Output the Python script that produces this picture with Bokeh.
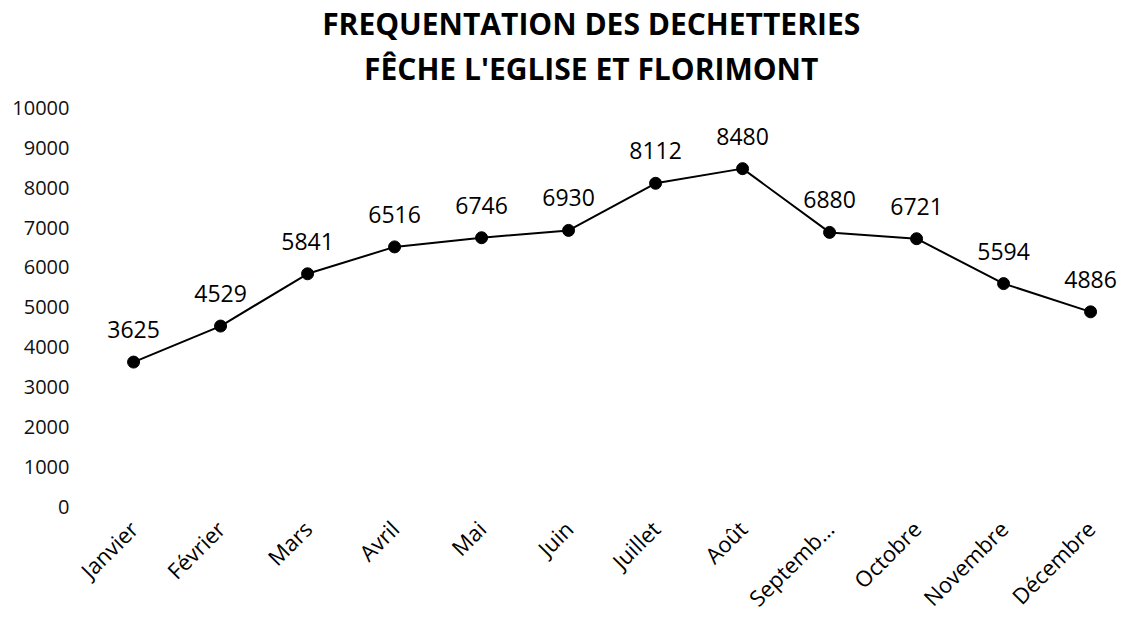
import math
from bokeh.plotting import figure
from bokeh.models import Range1d, FixedTicker, Label, ColumnDataSource, LabelSet
from bokeh.core.properties import value
from bokeh.embed import file_html
from bokeh.resources import INLINE

months = ["Janvier", "Février", "Mars", "Avril", "Mai", "Juin", "Juillet",
          "Août", "Septemb…", "Octobre", "Novembre", "Décembre"]
visits = [3625, 4529, 5841, 6516, 6746, 6930, 8112, 8480, 6880, 6721, 5594, 4886]
y_ticks = [0, 1000, 2000, 3000, 4000, 5000, 6000, 7000, 8000, 9000, 10000]
title_line1 = "FREQUENTATION DES DECHETTERIES"
title_line2 = "FÊCHE L'EGLISE ET FLORIMONT"

FONT = "Open Sans"
# layout: the frame reaches the top of the canvas so the two centred title
# lines can be drawn inside it, above the 0-10000 value area
Y_TOP = 12700
TITLE_X = 5.26
TITLE_Y1 = 12120
TITLE_Y2 = 10990

xs = list(range(len(months)))
src = ColumnDataSource(dict(x=xs, y=visits, lab=[str(v) for v in visits]))

p = figure(width=1124, height=626, output_backend="svg", toolbar_location=None,
           x_range=Range1d(-0.61, 11.39), y_range=Range1d(0, Y_TOP),
           min_border_left=80, min_border_right=0, min_border_top=0,
           min_border_bottom=120, title=None)
p.outline_line_color = None
p.xgrid.grid_line_color = None
p.ygrid.grid_line_color = None

for txt, ty in ((title_line1, TITLE_Y1), (title_line2, TITLE_Y2)):
    p.add_layout(Label(x=TITLE_X, y=ty, text=txt, text_align="center",
                       text_baseline="middle", text_font=FONT,
                       text_font_size="30px", text_font_style="bold",
                       text_color="#000000"))

p.line("x", "y", source=src, line_color="#000000", line_width=2)
p.scatter("x", "y", source=src, size=12, fill_color="#000000", line_color="#000000")

labels = LabelSet(x="x", y="y", text="lab", source=src, text_align="center",
                  text_baseline="alphabetic", y_offset=24, text_font=value(FONT),
                  text_font_size=value("23px"), text_color=value("#000000"))
p.add_layout(labels)

xa = p.xaxis[0]
xa.ticker = FixedTicker(ticks=xs)
xa.major_label_overrides = {i: m for i, m in enumerate(months)}
xa.major_label_orientation = math.pi / 4
xa.axis_line_color = None
xa.major_tick_line_color = None
xa.minor_tick_line_color = None
xa.major_label_text_font = FONT
xa.major_label_text_font_size = "22px"
xa.major_label_text_color = "#000000"
xa.major_label_standoff = 12

ya = p.yaxis[0]
ya.ticker = FixedTicker(ticks=y_ticks)
ya.axis_line_color = None
ya.major_tick_line_color = None
ya.minor_tick_line_color = None
ya.major_label_text_font = FONT
ya.major_label_text_font_size = "20px"
ya.major_label_text_color = "#111111"
ya.major_label_standoff = 5

open("out.html", "w").write(file_html(p, INLINE))
